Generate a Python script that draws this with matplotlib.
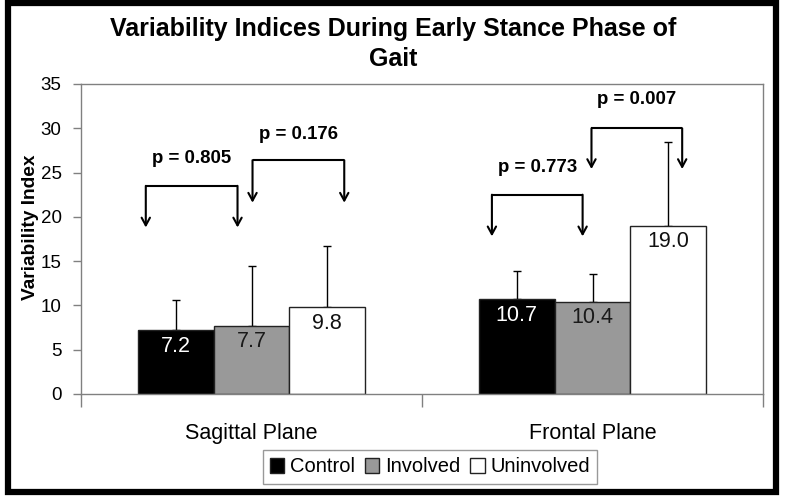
import matplotlib
matplotlib.use("Agg")
import matplotlib.pyplot as plt
from matplotlib.patches import Rectangle
import numpy as np

plt.rcParams['font.family'] = ['Liberation Sans', 'DejaVu Sans']

# ---- data ----
categories = ["Sagittal Plane", "Frontal Plane"]
series_names = ["Control", "Involved", "Uninvolved"]
control = [7.2, 10.7]
involved = [7.7, 10.4]
uninvolved = [9.8, 19.0]
control_err = [3.4, 3.2]
involved_err = [6.8, 3.1]
uninvolved_err = [6.9, 9.5]
y_ticks = [0, 5, 10, 15, 20, 25, 30, 35]
title = "Variability Indices During Early Stance Phase of\nGait"
y_label = "Variability Index"

# p-value brackets: (label, x_left, x_right, y_top, y_tip, y_text)
p_labels = ["p = 0.805", "p = 0.176", "p = 0.773", "p = 0.007"]
p_xleft = [-0.310, 0.003, 0.705, 0.997]
p_xright = [-0.041, 0.272, 0.971, 1.263]
p_ytop = [23.5, 26.4, 22.5, 30.0]
p_ytip = [18.8, 21.6, 17.8, 25.4]
p_ytext = [26.6, 29.3, 25.6, 33.3]

colors = ["#000000", "#999999", "#ffffff"]
text_colors = ["#ffffff", "#1a1a1a", "#111111"]

fig = plt.figure(figsize=(7.85, 5.0), dpi=100)
ax = fig.add_axes([81/785, 1-394/500, (763-81)/785, (394-84)/500])

x = np.arange(len(categories))
bw = 2/9
series = [control, involved, uninvolved]
errs = [control_err, involved_err, uninvolved_err]
for i, (vals, err, col, tc, name) in enumerate(zip(series, errs, colors, text_colors, series_names)):
    pos = x + (i - 1) * bw
    ax.errorbar(pos, vals, yerr=[np.zeros(len(vals)), err], fmt='none',
                ecolor='black', elinewidth=1, capsize=3, capthick=1, zorder=1)
    bars = ax.bar(pos, vals, width=bw, color=col, edgecolor='#222222',
                  linewidth=1, label=name, zorder=2)
    for b, v in zip(bars, vals):
        ax.annotate(f"{v:.1f}", (b.get_x() + b.get_width()/2, v),
                    xytext=(0, -11.5), textcoords='offset points',
                    ha='center', va='center', fontsize=15.5, color=tc, zorder=3)

for lab, xl, xr, yt, yp, ytx in zip(p_labels, p_xleft, p_xright, p_ytop, p_ytip, p_ytext):
    ax.plot([xl, xr], [yt, yt], color='black', lw=1.5, solid_capstyle='butt', zorder=4)
    for xx in (xl, xr):
        ax.annotate("", xy=(xx, yp), xytext=(xx, yt),
                    arrowprops=dict(arrowstyle='->,head_length=0.55,head_width=0.3',
                                    lw=1.5, color='black', shrinkA=0, shrinkB=0),
                    zorder=4)
    ax.text((xl + xr)/2, ytx, lab, ha='center', va='center', fontsize=13.4,
            fontweight='bold', zorder=4)

ax.set_xlim(-0.5, 1.5)
ax.set_ylim(0, 35)
ax.set_yticks(y_ticks)
ax.tick_params(axis='y', direction='out', length=6, width=1, color='#808080',
               labelsize=13.5, pad=8)
ax.set_xticks([-0.5, 0.5, 1.5])
ax.set_xticklabels([])
ax.tick_params(axis='x', which='major', direction='out', length=9, width=1, color='#808080')
ax.set_xticks(x, minor=True)
ax.set_xticklabels(categories, minor=True)
ax.tick_params(axis='x', which='minor', length=0, labelsize=15.5, pad=21)
for s in ax.spines.values():
    s.set_color('#808080')
    s.set_linewidth(1)

fig.text(393/785, 1-44/500, title, ha='center', va='center', fontsize=18,
         fontweight='bold', linespacing=1.3)
fig.text(31/785, 1-227/500, y_label, ha='center', va='center', rotation=90,
         fontsize=13.8, fontweight='bold')

leg = fig.legend(loc='center', bbox_to_anchor=(430/785, 1-467/500), ncol=3,
                 frameon=True, fancybox=False, fontsize=14.5, handlelength=0.7,
                 handleheight=0.7, handletextpad=0.3, columnspacing=0.5,
                 borderpad=0.35, edgecolor='#808080')
leg.get_frame().set_linewidth(1)

# outer black frame
fig.patches.append(Rectangle((7.5/785, 1-491.5/500), (776-7.5)/785, (491.5-3)/500,
                             transform=fig.transFigure, fill=False,
                             edgecolor='black', linewidth=4.5))

fig.savefig("out.png", dpi=100)
